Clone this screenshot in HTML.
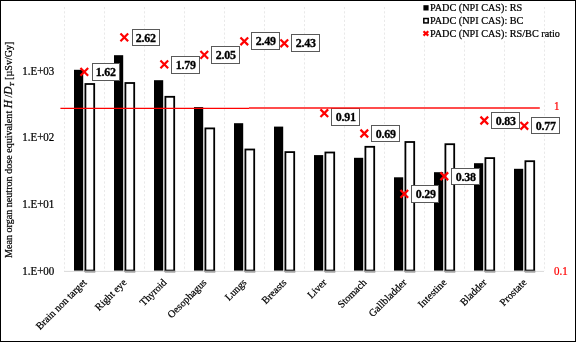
<!DOCTYPE html><html><head><meta charset="utf-8"><style>html,body{margin:0;padding:0;background:#fff;}svg{display:block;will-change:transform;}text{font-family:"Liberation Serif",serif;} .s{stroke:#000;stroke-width:0.22px;} .b{stroke:#000;stroke-width:0.3px;}</style></head><body>
<svg width="576" height="342" viewBox="0 0 576 342">
<rect x="0" y="0" width="576" height="342" fill="#fff"/>
<line x1="64.5" y1="7" x2="64.5" y2="271.0" stroke="#e9e9e9" stroke-width="1" stroke-dasharray="2.2 2.054"/>
<line x1="104.5" y1="7" x2="104.5" y2="271.0" stroke="#e9e9e9" stroke-width="1" stroke-dasharray="2.2 2.054"/>
<line x1="144.5" y1="7" x2="144.5" y2="271.0" stroke="#e9e9e9" stroke-width="1" stroke-dasharray="2.2 2.054"/>
<line x1="184.5" y1="7" x2="184.5" y2="271.0" stroke="#e9e9e9" stroke-width="1" stroke-dasharray="2.2 2.054"/>
<line x1="224.5" y1="7" x2="224.5" y2="271.0" stroke="#e9e9e9" stroke-width="1" stroke-dasharray="2.2 2.054"/>
<line x1="264.5" y1="7" x2="264.5" y2="271.0" stroke="#e9e9e9" stroke-width="1" stroke-dasharray="2.2 2.054"/>
<line x1="304.5" y1="7" x2="304.5" y2="271.0" stroke="#e9e9e9" stroke-width="1" stroke-dasharray="2.2 2.054"/>
<line x1="344.5" y1="7" x2="344.5" y2="271.0" stroke="#e9e9e9" stroke-width="1" stroke-dasharray="2.2 2.054"/>
<line x1="384.5" y1="7" x2="384.5" y2="271.0" stroke="#e9e9e9" stroke-width="1" stroke-dasharray="2.2 2.054"/>
<line x1="424.5" y1="7" x2="424.5" y2="271.0" stroke="#e9e9e9" stroke-width="1" stroke-dasharray="2.2 2.054"/>
<line x1="464.5" y1="7" x2="464.5" y2="271.0" stroke="#e9e9e9" stroke-width="1" stroke-dasharray="2.2 2.054"/>
<line x1="504.5" y1="7" x2="504.5" y2="271.0" stroke="#e9e9e9" stroke-width="1" stroke-dasharray="2.2 2.054"/>
<line x1="544.5" y1="7" x2="544.5" y2="271.0" stroke="#e9e9e9" stroke-width="1" stroke-dasharray="2.2 2.054"/>
<line x1="64" y1="271.4" x2="544" y2="271.4" stroke="#d9d9d9" stroke-width="1"/>
<rect x="74" y="69.8" width="9.2" height="200.80" fill="#000"/>
<rect x="85.4" y="84.0" width="8.8" height="186.55" fill="#fff" stroke="#000" stroke-width="1.8"/>
<rect x="84.8" y="270.6" width="10.5" height="2.1" fill="#a3a3a3"/>
<rect x="114" y="55.2" width="9.2" height="215.40" fill="#000"/>
<rect x="125.4" y="83.0" width="8.8" height="187.55" fill="#fff" stroke="#000" stroke-width="1.8"/>
<rect x="124.8" y="270.6" width="10.5" height="2.1" fill="#a3a3a3"/>
<rect x="154" y="80.2" width="9.2" height="190.40" fill="#000"/>
<rect x="165.4" y="96.80000000000001" width="8.8" height="173.75" fill="#fff" stroke="#000" stroke-width="1.8"/>
<rect x="164.8" y="270.6" width="10.5" height="2.1" fill="#a3a3a3"/>
<rect x="194" y="107.1" width="9.2" height="163.50" fill="#000"/>
<rect x="205.4" y="128.4" width="8.8" height="142.15" fill="#fff" stroke="#000" stroke-width="1.8"/>
<rect x="204.8" y="270.6" width="10.5" height="2.1" fill="#a3a3a3"/>
<rect x="234" y="123.2" width="9.2" height="147.40" fill="#000"/>
<rect x="245.4" y="149.5" width="8.8" height="121.05" fill="#fff" stroke="#000" stroke-width="1.8"/>
<rect x="244.8" y="270.6" width="10.5" height="2.1" fill="#a3a3a3"/>
<rect x="274" y="126.6" width="9.2" height="144.00" fill="#000"/>
<rect x="285.4" y="152.1" width="8.8" height="118.45" fill="#fff" stroke="#000" stroke-width="1.8"/>
<rect x="284.8" y="270.6" width="10.5" height="2.1" fill="#a3a3a3"/>
<rect x="314" y="155.1" width="9.2" height="115.50" fill="#000"/>
<rect x="325.4" y="152.5" width="8.8" height="118.05" fill="#fff" stroke="#000" stroke-width="1.8"/>
<rect x="324.8" y="270.6" width="10.5" height="2.1" fill="#a3a3a3"/>
<rect x="354" y="157.8" width="9.2" height="112.80" fill="#000"/>
<rect x="365.4" y="146.8" width="8.8" height="123.75" fill="#fff" stroke="#000" stroke-width="1.8"/>
<rect x="364.8" y="270.6" width="10.5" height="2.1" fill="#a3a3a3"/>
<rect x="394" y="177.3" width="9.2" height="93.30" fill="#000"/>
<rect x="405.4" y="142.0" width="8.8" height="128.55" fill="#fff" stroke="#000" stroke-width="1.8"/>
<rect x="404.8" y="270.6" width="10.5" height="2.1" fill="#a3a3a3"/>
<rect x="434" y="172.2" width="9.2" height="98.40" fill="#000"/>
<rect x="445.4" y="144.20000000000002" width="8.8" height="126.35" fill="#fff" stroke="#000" stroke-width="1.8"/>
<rect x="444.8" y="270.6" width="10.5" height="2.1" fill="#a3a3a3"/>
<rect x="474" y="163.2" width="9.2" height="107.40" fill="#000"/>
<rect x="485.4" y="158.1" width="8.8" height="112.45" fill="#fff" stroke="#000" stroke-width="1.8"/>
<rect x="484.8" y="270.6" width="10.5" height="2.1" fill="#a3a3a3"/>
<rect x="514" y="168.8" width="9.2" height="101.80" fill="#000"/>
<rect x="525.4" y="161.20000000000002" width="8.8" height="109.35" fill="#fff" stroke="#000" stroke-width="1.8"/>
<rect x="524.8" y="270.6" width="10.5" height="2.1" fill="#a3a3a3"/>
<path d="M80.45 68.05000000000001L88.14999999999999 75.75M88.14999999999999 68.05000000000001L80.45 75.75" stroke="#ff0000" stroke-width="2.2" fill="none"/>
<path d="M120.45 33.55L128.15 41.25M128.15 33.55L120.45 41.25" stroke="#ff0000" stroke-width="2.2" fill="none"/>
<path d="M160.45000000000002 60.550000000000004L168.15 68.25M168.15 60.550000000000004L160.45000000000002 68.25" stroke="#ff0000" stroke-width="2.2" fill="none"/>
<path d="M200.45000000000002 51.05L208.15 58.75M208.15 51.05L200.45000000000002 58.75" stroke="#ff0000" stroke-width="2.2" fill="none"/>
<path d="M240.45000000000002 37.449999999999996L248.15 45.15M248.15 37.449999999999996L240.45000000000002 45.15" stroke="#ff0000" stroke-width="2.2" fill="none"/>
<path d="M280.45 39.449999999999996L288.15000000000003 47.15M288.15000000000003 39.449999999999996L280.45 47.15" stroke="#ff0000" stroke-width="2.2" fill="none"/>
<path d="M320.45 109.35000000000001L328.15000000000003 117.05M328.15000000000003 109.35000000000001L320.45 117.05" stroke="#ff0000" stroke-width="2.2" fill="none"/>
<path d="M360.45 129.65L368.15000000000003 137.35M368.15000000000003 129.65L360.45 137.35" stroke="#ff0000" stroke-width="2.2" fill="none"/>
<path d="M400.45 190.05L408.15000000000003 197.75M408.15000000000003 190.05L400.45 197.75" stroke="#ff0000" stroke-width="2.2" fill="none"/>
<path d="M440.45 172.4L448.15000000000003 180.1M448.15000000000003 172.4L440.45 180.1" stroke="#ff0000" stroke-width="2.2" fill="none"/>
<path d="M480.45 116.65L488.15000000000003 124.35M488.15000000000003 116.65L480.45 124.35" stroke="#ff0000" stroke-width="2.2" fill="none"/>
<path d="M520.4499999999999 121.95L528.15 129.65M528.15 121.95L520.4499999999999 129.65" stroke="#ff0000" stroke-width="2.2" fill="none"/>
<rect x="92.5" y="63.5" width="27" height="17" fill="#fff" stroke="#595959" stroke-width="1"/>
<text transform="translate(105.7,75.9) scale(1,1.03)" font-size="12" font-weight="bold" letter-spacing="-0.3" text-anchor="middle" class="b">1.62</text>
<rect x="132.5" y="29.5" width="27" height="16" fill="#fff" stroke="#595959" stroke-width="1"/>
<text transform="translate(145.7,41.9) scale(1,1.03)" font-size="12" font-weight="bold" letter-spacing="-0.3" text-anchor="middle" class="b">2.62</text>
<rect x="171.5" y="56.5" width="28" height="17" fill="#fff" stroke="#595959" stroke-width="1"/>
<text transform="translate(185.7,68.9) scale(1,1.03)" font-size="12" font-weight="bold" letter-spacing="-0.3" text-anchor="middle" class="b">1.79</text>
<rect x="211.5" y="46.5" width="28" height="17" fill="#fff" stroke="#595959" stroke-width="1"/>
<text transform="translate(225.7,58.9) scale(1,1.03)" font-size="12" font-weight="bold" letter-spacing="-0.3" text-anchor="middle" class="b">2.05</text>
<rect x="251.5" y="32.5" width="28" height="17" fill="#fff" stroke="#595959" stroke-width="1"/>
<text transform="translate(265.7,44.9) scale(1,1.03)" font-size="12" font-weight="bold" letter-spacing="-0.3" text-anchor="middle" class="b">2.49</text>
<rect x="291.5" y="34.5" width="28" height="17" fill="#fff" stroke="#595959" stroke-width="1"/>
<text transform="translate(305.7,46.9) scale(1,1.03)" font-size="12" font-weight="bold" letter-spacing="-0.3" text-anchor="middle" class="b">2.43</text>
<rect x="331.5" y="108.5" width="28" height="17" fill="#fff" stroke="#595959" stroke-width="1"/>
<text transform="translate(345.7,120.9) scale(1,1.03)" font-size="12" font-weight="bold" letter-spacing="-0.3" text-anchor="middle" class="b">0.91</text>
<rect x="371.5" y="125.5" width="28" height="16" fill="#fff" stroke="#595959" stroke-width="1"/>
<text transform="translate(385.7,137.9) scale(1,1.03)" font-size="12" font-weight="bold" letter-spacing="-0.3" text-anchor="middle" class="b">0.69</text>
<rect x="411.5" y="185.5" width="27" height="17" fill="#fff" stroke="#595959" stroke-width="1"/>
<text transform="translate(425.7,197.9) scale(1,1.03)" font-size="12" font-weight="bold" letter-spacing="-0.3" text-anchor="middle" class="b">0.29</text>
<rect x="451.5" y="168.5" width="28" height="16" fill="#fff" stroke="#595959" stroke-width="1"/>
<text transform="translate(465.7,180.9) scale(1,1.03)" font-size="12" font-weight="bold" letter-spacing="-0.3" text-anchor="middle" class="b">0.38</text>
<rect x="491.5" y="112.5" width="28" height="16" fill="#fff" stroke="#595959" stroke-width="1"/>
<text transform="translate(505.7,124.9) scale(1,1.03)" font-size="12" font-weight="bold" letter-spacing="-0.3" text-anchor="middle" class="b">0.83</text>
<rect x="531.5" y="117.5" width="28" height="16" fill="#fff" stroke="#595959" stroke-width="1"/>
<text transform="translate(545.7,129.9) scale(1,1.03)" font-size="12" font-weight="bold" letter-spacing="-0.3" text-anchor="middle" class="b">0.77</text>
<line x1="60.4" y1="108.35" x2="249" y2="108.35" stroke="#ff0000" stroke-width="1.4"/>
<line x1="249" y1="107.9" x2="539.8" y2="107.9" stroke="#ff1010" stroke-width="1.5"/>
<text transform="translate(54.3,275.00) scale(1,1.12)" font-size="11" text-anchor="end" class="s">1.E+00</text>
<text transform="translate(54.3,208.23) scale(1,1.12)" font-size="11" text-anchor="end" class="s">1.E+01</text>
<text transform="translate(54.3,141.46) scale(1,1.12)" font-size="11" text-anchor="end" class="s">1.E+02</text>
<text transform="translate(54.3,74.69) scale(1,1.12)" font-size="11" text-anchor="end" class="s">1.E+03</text>
<text transform="translate(554,109.8) scale(1,1.05)" font-size="11" fill="#ff0000" stroke="#ff0000" stroke-width="0.22">1</text>
<text transform="translate(554,274.8) scale(1,1.05)" font-size="11" fill="#ff0000" stroke="#ff0000" stroke-width="0.22">0.1</text>
<text transform="translate(82.1,278.0) rotate(-45)" x="0" y="0" font-size="10.3" text-anchor="end" dy="0.7em" class="s">Brain non target</text>
<text transform="translate(122.1,278.0) rotate(-45)" x="0" y="0" font-size="10.3" text-anchor="end" dy="0.7em" class="s">Right eye</text>
<text transform="translate(162.1,278.0) rotate(-45)" x="0" y="0" font-size="10.3" text-anchor="end" dy="0.7em" class="s">Thyroid</text>
<text transform="translate(202.1,278.0) rotate(-45)" x="0" y="0" font-size="10.3" text-anchor="end" dy="0.7em" class="s">Oesophagus</text>
<text transform="translate(242.1,278.0) rotate(-45)" x="0" y="0" font-size="10.3" text-anchor="end" dy="0.7em" class="s">Lungs</text>
<text transform="translate(282.1,278.0) rotate(-45)" x="0" y="0" font-size="10.3" text-anchor="end" dy="0.7em" class="s">Breasts</text>
<text transform="translate(322.1,278.0) rotate(-45)" x="0" y="0" font-size="10.3" text-anchor="end" dy="0.7em" class="s">Liver</text>
<text transform="translate(362.1,278.0) rotate(-45)" x="0" y="0" font-size="10.3" text-anchor="end" dy="0.7em" class="s">Stomach</text>
<text transform="translate(402.1,278.0) rotate(-45)" x="0" y="0" font-size="10.3" text-anchor="end" dy="0.7em" class="s">Gallbladder</text>
<text transform="translate(442.1,278.0) rotate(-45)" x="0" y="0" font-size="10.3" text-anchor="end" dy="0.7em" class="s">Intestine</text>
<text transform="translate(482.1,278.0) rotate(-45)" x="0" y="0" font-size="10.3" text-anchor="end" dy="0.7em" class="s">Bladder</text>
<text transform="translate(522.1,278.0) rotate(-45)" x="0" y="0" font-size="10.3" text-anchor="end" dy="0.7em" class="s">Prostate</text>
<text transform="translate(12.2,149.8) rotate(-90)" font-size="10.1" text-anchor="middle" class="s">Mean organ neutron dose equivalent <tspan font-style="italic" font-size="11.5">H</tspan> /<tspan font-style="italic" font-size="11.5">D</tspan><tspan font-style="italic" font-size="7" dy="2.2">T</tspan><tspan dy="-2.2"> [µSv/Gy]</tspan></text>
<rect x="416" y="3" width="124" height="37.5" fill="#fff"/>
<rect x="423.4" y="5.2" width="5.2" height="5.3" fill="#000"/>
<rect x="423.8" y="18.5" width="4.4" height="4.4" fill="#fff" stroke="#000" stroke-width="1.5"/>
<path d="M423.5 31.2L428.3 35.6M428.3 31.2L423.5 35.6" stroke="#ff0000" stroke-width="2.2" fill="none"/>
<text transform="translate(430,10.9) scale(1,1.02)" font-size="10.2" class="s">PADC (NPI CAS): RS</text>
<text transform="translate(430,23.9) scale(1,1.02)" font-size="10.2" class="s">PADC (NPI CAS): BC</text>
<text transform="translate(430,36.9) scale(1,1.02)" font-size="10.2" class="s">PADC (NPI CAS): RS/BC ratio</text>
<rect x="0.5" y="0.5" width="575" height="341" fill="none" stroke="#000" stroke-width="1"/>
</svg></body></html>
